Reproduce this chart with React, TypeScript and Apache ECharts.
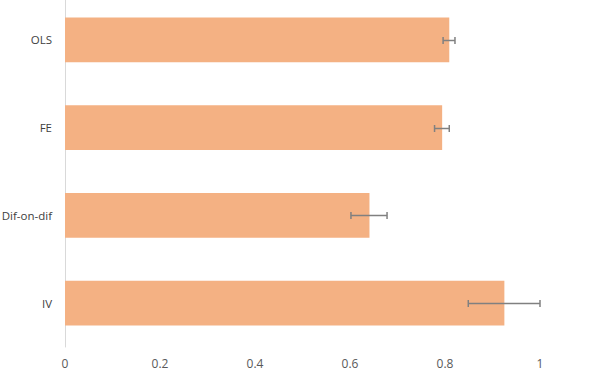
import React, { useEffect, useRef } from "react";
import * as echarts from "echarts";

const categories = ["OLS", "FE", "Dif-on-dif", "IV"];
const estimates = [0.809, 0.794, 0.641, 0.925];
const lowerBounds = [0.796, 0.778, 0.602, 0.849];
const upperBounds = [0.821, 0.809, 0.678, 1.0];

export default function App() {
  const ref = useRef<HTMLDivElement>(null);
  useEffect(() => {
    if (!ref.current) return;
    const chart = echarts.init(ref.current, null, { renderer: "svg" });
    const font = "'Open Sans', 'Noto Sans', sans-serif";
    chart.setOption({
      animation: false,
      backgroundColor: "#ffffff",
      grid: {
        left: 65,
        width: 475,
        top: -4,
        height: 351,
        containLabel: false,
        outerBoundsMode: "none",
      },
      xAxis: {
        type: "value",
        min: 0,
        max: 1,
        interval: 0.2,
        axisLine: { show: false },
        axisTick: { show: false },
        splitLine: { show: false },
        axisLabel: { color: "#595959", fontSize: 12, fontFamily: font, margin: 10 },
      },
      yAxis: {
        type: "category",
        data: categories,
        inverse: true,
        axisLine: { show: true, lineStyle: { color: "#d9d9d9", width: 1 } },
        axisTick: { show: false },
        axisLabel: { color: "#404040", fontSize: 11.5, fontFamily: font, margin: 13 },
      },
      series: [
        {
          type: "bar",
          data: estimates,
          barWidth: "51%",
          itemStyle: { color: "#F4B183" },
        },
        {
          type: "custom",
          data: categories.map((_, i) => [i, lowerBounds[i], upperBounds[i]]),
          encode: { y: 0, x: [1, 2] },
          renderItem: (params: any, api: any) => {
            const idx = api.value(0);
            const lo = api.coord([api.value(1), idx]);
            const hi = api.coord([api.value(2), idx]);
            const y = Math.round(lo[1]) + 0.5;
            const cap = 3.5;
            const style = { stroke: "#808080", lineWidth: 1.5, fill: "none" };
            return {
              type: "group",
              children: [
                { type: "line", shape: { x1: lo[0], y1: y, x2: hi[0], y2: y }, style },
                { type: "line", shape: { x1: lo[0], y1: y - cap, x2: lo[0], y2: y + cap }, style },
                { type: "line", shape: { x1: hi[0], y1: y - cap, x2: hi[0], y2: y + cap }, style },
              ],
            };
          },
          z: 10,
        },
      ],
    });
    return () => chart.dispose();
  }, []);
  return <div ref={ref} style={{ width: 602, height: 376, position: "absolute", left: 0, top: 0 }} />;
}
